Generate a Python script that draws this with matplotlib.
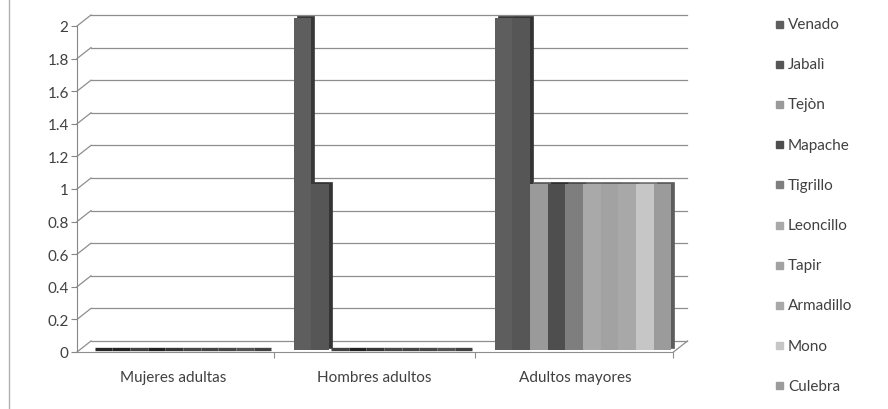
import matplotlib
matplotlib.use('Agg')
import matplotlib.pyplot as plt
import matplotlib.colors as mcolors
from matplotlib.patches import Rectangle
from matplotlib.lines import Line2D
from matplotlib.transforms import ScaledTranslation, Affine2D

plt.rcParams['font.family'] = ['Lato', 'DejaVu Sans']

categories = ['Mujeres adultas', 'Hombres adultos', 'Adultos mayores']
series = ['Venado', 'Jabalì', 'Tejòn', 'Mapache', 'Tigrillo',
          'Leoncillo', 'Tapir', 'Armadillo', 'Mono', 'Culebra']
mujeres = [0, 0, 0, 0, 0, 0, 0, 0, 0, 0]
hombres = [2, 1, 0, 0, 0, 0, 0, 0, 0, 0]
mayores = [2, 2, 1, 1, 1, 1, 1, 1, 1, 1]
yticks = [0, 0.2, 0.4, 0.6, 0.8, 1, 1.2, 1.4, 1.6, 1.8, 2]

colors = ['#5e5e5e', '#565656', '#9a9a9a', '#4e4e4e', '#7e7e7e',
          '#a9a9a9', '#a2a2a2', '#a8a8a8', '#c6c6c6', '#9b9b9b']

W, H = 888, 410
fig = plt.figure(figsize=(W / 100, H / 100), dpi=100)
fig.patch.set_facecolor('white')

x0_px, x1_px, y0_px, y2_px = 77, 690, 353, 27
ax = fig.add_axes([x0_px / W, 1 - y0_px / H, (x1_px - x0_px) / W, (y0_px - y2_px) / H])
unit = 201.0
xmin = (x0_px - 173) / unit
xmax = (x1_px - 173) / unit
xend = 2.49
ax.set_xlim(xmin, xmax)
ax.set_ylim(0, 2)
ax.patch.set_alpha(0)

def px(dx, dy):
    return ScaledTranslation(dx / 100, dy / 100, fig.dpi_scale_trans)

grid_col = '#8e8e8e'
back = ax.transData + px(14, 11)

# back wall gridlines plus the diagonal joins of the side wall
for v in yticks:
    ax.plot([xmin, xend], [v, v], color=grid_col, lw=0.9, transform=back,
            zorder=1, clip_on=False)
    p0 = ax.transData.transform((xmin, v))
    ax.plot([p0[0], p0[0] + 14], [p0[1], p0[1] + 11], color=grid_col, lw=0.9,
            transform=None, zorder=1, clip_on=False)
# right floor edge
pf = ax.transData.transform((xend, 0))
ax.plot([pf[0], pf[0] + 14], [pf[1], pf[1] + 11], color=grid_col, lw=0.9,
        transform=None, zorder=1, clip_on=False)

# 3D-looking columns: darker extruded copy behind each front face
bar_tr = (Affine2D().translate(0, -(H - y0_px)).scale(1, 1.018)
          .translate(0, H - y0_px + 2))
front_tr = ax.transData + bar_tr
depth_tr = front_tr + px(3, 2)

w = 0.088
start = -0.40
for j, vals in enumerate([mujeres, hombres, mayores]):
    for i, (v, c) in enumerate(zip(vals, colors)):
        x = j + start + i * w
        rgb = mcolors.to_rgb(c)
        if v == 0:
            # flat column: only its dark lid shows
            lid = tuple(ch * 0.42 for ch in rgb)
            ax.bar(x, v, width=w, align='edge', color=lid, edgecolor=lid,
                   linewidth=2.4, joinstyle='round', transform=front_tr + px(2, 1),
                   zorder=3, clip_on=False)
            continue
        dark = tuple(ch * 0.6 for ch in rgb)
        ax.bar(x, v, width=w, align='edge', color=dark, edgecolor=dark,
               linewidth=0.5, transform=depth_tr, zorder=3, clip_on=False)
        ax.bar(x, v, width=w, align='edge', color=c, linewidth=0,
               transform=front_tr, zorder=3, clip_on=False)

axis_col = '#868686'
for s in ['top', 'right']:
    ax.spines[s].set_visible(False)
ax.spines['left'].set_color(axis_col)
ax.spines['bottom'].set_color(grid_col)
ax.spines['bottom'].set_bounds(xmin, xend)
ax.spines['left'].set_zorder(2)

ax.set_yticks(yticks)
ax.set_yticklabels(['%g' % t for t in yticks])
ax.tick_params(axis='y', length=4, width=0.8, color=axis_col, pad=2,
               labelsize=11, labelcolor='#404040')
ax.set_xticks(range(len(categories)))
ax.set_xticklabels(categories)
ax.tick_params(axis='x', which='major', length=0, pad=13, labelsize=11,
               labelcolor='#404040')
ax.set_xticks([0.5, 1.5, xend], minor=True)
ax.tick_params(axis='x', which='minor', length=4, width=0.8, color=grid_col)

# legend
for i, (name, c) in enumerate(zip(series, colors)):
    yc = 25 + i * 40.2
    fig.patches.append(Rectangle((776 / W, 1 - (yc + 3.5) / H), 7 / W, 7 / H,
                                 transform=fig.transFigure, color=c))
    fig.text(788 / W, 1 - yc / H, name, va='center', ha='left', fontsize=11,
             color='#404040')

# chart border on the left edge
fig.add_artist(Line2D([9 / W, 9 / W], [0, 1], color='#b0b0b0', lw=1))

fig.savefig('out.png', dpi=100)
